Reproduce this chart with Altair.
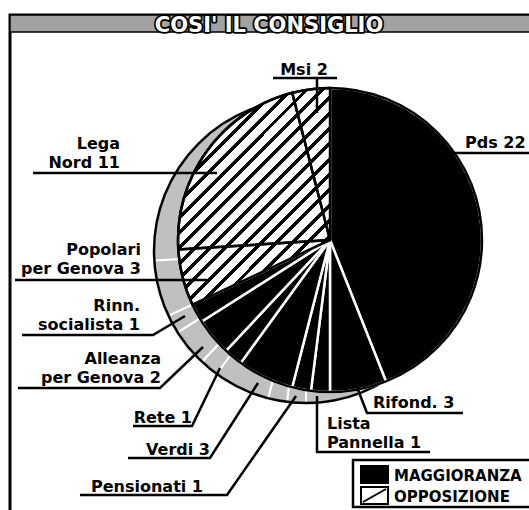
import math
import altair as alt
import pandas as pd

# ---------------- data ----------------
parties = ["Pds", "Rifond.", "Lista Pannella", "Pensionati", "Verdi", "Rete",
           "Alleanza per Genova", "Rinn. socialista", "Popolari per Genova",
           "Lega Nord", "Msi"]
seats = [22, 3, 1, 1, 3, 1, 2, 1, 3, 11, 2]
side = ["MAGGIORANZA"] * 8 + ["OPPOSIZIONE"] * 3
label_text = ["Pds 22", "Rifond. 3", "Lista\nPannella 1", "Pensionati 1", "Verdi 3",
              "Rete 1", "Alleanza\nper Genova 2", "Rinn.\nsocialista 1",
              "Popolari\nper Genova 3", "Lega\nNord 11", "Msi 2"]
title_text = "COSI' IL CONSIGLIO"
legend_labels = ["MAGGIORANZA", "OPPOSIZIONE"]

# ---------------- layout (pixels) ----------------
W, H = 529, 510
CX, CY, R = 330, 240, 152          # pie face
SX, SY = 306, 251                  # shadow rim centre
FONT = "DejaVu Sans"
LH = 19                            # label line height

# label anchor: x, baseline of last line, align
label_pos = {
    "Pds": (465, 148, "left"),
    "Rifond.": (373, 408, "left"),
    "Lista Pannella": (327, 448, "left"),
    "Pensionati": (203, 492, "right"),
    "Verdi": (210, 455, "right"),
    "Rete": (192, 423, "right"),
    "Alleanza per Genova": (161, 383, "right"),
    "Rinn. socialista": (140, 330, "right"),
    "Popolari per Genova": (141, 274, "right"),
    "Lega Nord": (120, 168, "right"),
    "Msi": (304, 75, "center"),
}
# leader / underline polylines
leaders = {
    "Pds": [(440, 153), (529, 153)],
    "Rifond.": [(355, 382), (367, 413), (463, 413)],
    "Lista Pannella": [(317, 396), (317, 452), (430, 452)],
    "Pensionati": [(80, 495), (227, 495), (296, 396)],
    "Verdi": [(128, 458), (210, 458), (258, 383)],
    "Rete": [(133, 426), (192, 426), (220, 368)],
    "Alleanza per Genova": [(18, 388), (160, 388), (203, 347)],
    "Rinn. socialista": [(22, 335), (153, 335), (185, 316)],
    "Popolari per Genova": [(15, 280), (207, 280)],
    "Lega Nord": [(33, 173), (217, 173)],
    "Msi": [(273, 78), (337, 78), (317, 78), (317, 113)],
}

# ---------------- tables ----------------
df = pd.DataFrame({"party": parties, "seats": seats, "side": side,
                   "idx": list(range(len(parties)))})
total = sum(seats)

rows = []
for p, t in zip(parties, label_text):
    x, y, al = label_pos[p]
    lines = t.split("\n")
    n = len(lines)
    for i, ln in enumerate(lines):
        rows.append({"text": ln, "x": x, "y": y - (n - 1 - i) * LH, "align": al})
labels_df = pd.DataFrame(rows)

seg_rows = []
for p, pts in leaders.items():
    for i, (x, y) in enumerate(pts):
        seg_rows.append({"seg": p, "o": i, "x": x, "y": y})
seg_df = pd.DataFrame(seg_rows)

px = lambda f: alt.X(f"{f}:Q", scale=None, axis=None)
py = lambda f: alt.Y(f"{f}:Q", scale=None, axis=None)

theta_scale = alt.Scale(domain=[0, total], range=[0, 2 * math.pi])
base = alt.Chart(df).transform_window(
    cum="sum(seats)", sort=[alt.SortField("idx")], frame=[None, 0]
).transform_calculate(t0="datum.cum - datum.seats")

enc_theta = dict(theta=alt.Theta("t0:Q", scale=theta_scale, stack=None),
                 theta2=alt.Theta2("cum:Q"))

# hatching as a striped linear gradient
n_str = 24
stops = [{"offset": 0, "color": "white"}]
for k in range(n_str):
    s = k / n_str
    a = round(s + 0.34 / n_str, 5)
    b = round(s + 0.66 / n_str, 5)
    stops += [{"offset": a, "color": "white"}, {"offset": a, "color": "black"},
              {"offset": b, "color": "black"}, {"offset": b, "color": "white"}]
stops.append({"offset": 1, "color": "white"})
hatch = {"gradient": "linear", "x1": 0, "y1": 0, "x2": 0.8, "y2": 1.14, "stops": stops}

# ---------------- frame & title ----------------
frame_df = pd.DataFrame({"x": [10], "x2": [560], "y": [15], "y2": [560]})
frame = alt.Chart(frame_df).mark_rect(fill="white", stroke="black", strokeWidth=3).encode(
    x=px("x"), x2="x2", y=py("y"), y2="y2")
bar_df = pd.DataFrame({"x": [10], "x2": [560], "y": [15], "y2": [32]})
bar = alt.Chart(bar_df).mark_rect(fill="#a2a2a2", stroke="black", strokeWidth=1.5).encode(
    x=px("x"), x2="x2", y=py("y"), y2="y2")
title_df = pd.DataFrame({"t": [title_text]})
title_shadow = alt.Chart(title_df).mark_text(
    font=FONT, fontWeight="bold", fontSize=21, fill="black", stroke="black",
    strokeWidth=3.5, strokeJoin="round", align="center", baseline="middle"
).encode(text="t:N", x=alt.value(269), y=alt.value(26))
title = alt.Chart(title_df).mark_text(
    font=FONT, fontWeight="bold", fontSize=21, fill="white",
    align="center", baseline="middle"
).encode(text="t:N", x=alt.value(269), y=alt.value(26))

# ---------------- pie ----------------
shadow = base.mark_arc(radius=R, fill="#c0c0c0", stroke="white", strokeWidth=2).encode(
    x=alt.value(SX), y=alt.value(SY), **enc_theta)
shadow_outline = alt.Chart(df.head(1)).mark_arc(
    radius=R, theta=0, theta2=2 * math.pi, fillOpacity=0, fill="white",
    stroke="black", strokeWidth=2.5).encode(x=alt.value(SX), y=alt.value(SY))

maj = base.transform_filter("datum.side == 'MAGGIORANZA'").mark_arc(
    radius=R, fill="black", stroke="white", strokeWidth=2.5).encode(
    x=alt.value(CX), y=alt.value(CY), **enc_theta)
opp_fill = base.transform_filter("datum.side == 'OPPOSIZIONE'").transform_aggregate(
    t0="min(t0)", cum="max(cum)").mark_arc(radius=R, fill=hatch, strokeWidth=0).encode(
    x=alt.value(CX), y=alt.value(CY), **enc_theta)
opp_lines = base.transform_filter("datum.side == 'OPPOSIZIONE'").mark_arc(
    radius=R, fill="white", fillOpacity=0, stroke="black", strokeWidth=2.5).encode(
    x=alt.value(CX), y=alt.value(CY), **enc_theta)
face_outline = alt.Chart(df.head(1)).mark_arc(
    radius=R, theta=0, theta2=2 * math.pi, fillOpacity=0, fill="white",
    stroke="black", strokeWidth=2.5).encode(x=alt.value(CX), y=alt.value(CY))

# ---------------- labels ----------------
lead = alt.Chart(seg_df).mark_line(color="black", strokeWidth=2.5, strokeCap="butt").encode(
    x=px("x"), y=py("y"), detail="seg:N", order="o:Q")
text_layers = []
for al in ["left", "right", "center"]:
    text_layers.append(
        alt.Chart(labels_df).transform_filter(f"datum.align == '{al}'").mark_text(
            font=FONT, fontWeight="bold", fontSize=16, color="black",
            align=al, baseline="alphabetic").encode(x=px("x"), y=py("y"), text="text:N"))

# ---------------- legend ----------------
leg_box = alt.Chart(pd.DataFrame({"x": [353], "x2": [560], "y": [460], "y2": [507]})).mark_rect(
    fill="white", stroke="black", strokeWidth=2.5).encode(x=px("x"), x2="x2", y=py("y"), y2="y2")
sw_df = pd.DataFrame({"side": legend_labels, "x": [361, 361], "x2": [388, 388],
                      "y": [466, 487], "y2": [483, 504]})
swatch = alt.Chart(sw_df).mark_rect(stroke="black", strokeWidth=2).encode(
    x=px("x"), x2="x2", y=py("y"), y2="y2",
    fill=alt.Fill("side:N", scale=alt.Scale(domain=legend_labels, range=["black", "white"]),
                  legend=None))
diag = alt.Chart(pd.DataFrame({"x": [363], "x2": [386], "y": [502], "y2": [489]})).mark_rule(
    color="black", strokeWidth=2).encode(x=px("x"), x2="x2", y=py("y"), y2="y2")
leg_txt = alt.Chart(pd.DataFrame({"t": legend_labels, "x": [394, 394], "y": [481, 502]})).mark_text(
    font=FONT, fontWeight="bold", fontSize=15, color="black", align="left",
    baseline="alphabetic").encode(x=px("x"), y=py("y"), text="t:N")

chart = alt.layer(
    frame, bar, title_shadow, title,
    shadow, shadow_outline, maj, opp_fill, opp_lines, face_outline,
    lead, *text_layers,
    leg_box, swatch, diag, leg_txt,
).properties(
    width=W, height=H, padding=0, autosize=alt.AutoSizeParams(type="none"),
    background="white"
).configure_view(stroke=None)

chart.save("out.html", embed_options={"renderer": "svg", "actions": False})
